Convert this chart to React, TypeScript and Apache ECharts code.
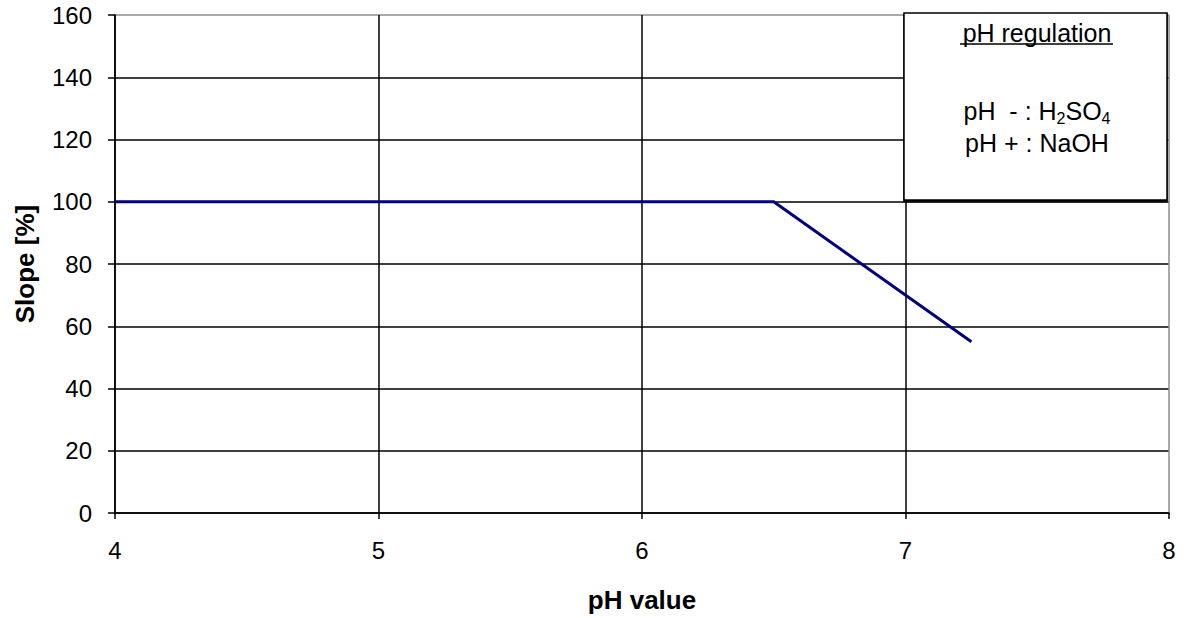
import React, { useEffect, useRef } from "react";
import * as echarts from "echarts";

const phValues = [4, 6.5, 7.25];
const slopeValues = [100, 100, 55];
const xTicks = [4, 5, 6, 7, 8];
const yTicks = [0, 20, 40, 60, 80, 100, 120, 140, 160];
const legendTitle = "pH regulation";
const xName = "pH value";
const yName = "Slope [%]";

export default function App() {
  const ref = useRef<HTMLDivElement>(null);
  useEffect(() => {
    if (!ref.current) return;
    const chart = echarts.init(ref.current, undefined, { renderer: "svg" });
    const font = "Arial";
    const ySplitColors = yTicks.map((_, i) => (i === yTicks.length - 1 ? "#8c8c8c" : "#000"));
    const xSplitColors = xTicks.map((_, i) => (i === xTicks.length - 1 ? "#8c8c8c" : "#000"));
    chart.setOption({
      animation: false,
      backgroundColor: "#fff",
      grid: { left: 115, right: 19, top: 15, bottom: 102 },
      xAxis: {
        type: "value",
        min: xTicks[0],
        max: xTicks[xTicks.length - 1],
        interval: 1,
        name: xName,
        nameLocation: "middle",
        nameGap: 74,
        nameTextStyle: { fontFamily: font, fontSize: 26, fontWeight: "bold", color: "#000" },
        axisLine: { show: true, lineStyle: { color: "#000", width: 1.5 } },
        axisTick: { show: true, length: 6, lineStyle: { color: "#000", width: 1.5 } },
        axisLabel: { margin: 25, fontFamily: font, fontSize: 24, color: "#000" },
        splitLine: { show: true, lineStyle: { color: xSplitColors, width: 1.5 } },
      },
      yAxis: {
        type: "value",
        min: yTicks[0],
        max: yTicks[yTicks.length - 1],
        interval: 20,
        name: yName,
        nameLocation: "middle",
        nameGap: 77,
        nameTextStyle: { fontFamily: font, fontSize: 26, fontWeight: "bold", color: "#000" },
        axisLine: { show: true, lineStyle: { color: "#000", width: 1.5 } },
        axisTick: { show: true, length: 7, lineStyle: { color: "#000", width: 1.5 } },
        axisLabel: { margin: 23, fontFamily: font, fontSize: 24, color: "#000" },
        splitLine: { show: true, lineStyle: { color: ySplitColors, width: 1.5 } },
      },
      series: [
        {
          type: "line",
          data: phValues.map((x, i) => [x, slopeValues[i]]),
          symbol: "none",
          lineStyle: { color: "#000080", width: 3 },
          z: 3,
        },
      ],
      graphic: [
        {
          type: "rect",
          z: 10,
          shape: { x: 904, y: 13, width: 263, height: 187 },
          style: { fill: "#fff", stroke: "#000", lineWidth: 1.5, shadowColor: "#000", shadowOffsetX: 0, shadowOffsetY: 1.5, shadowBlur: 0 },
        },
        {
          type: "text",
          z: 11,
          x: 1037,
          y: 33,
          style: { text: legendTitle, fontFamily: font, fontSize: 25, fill: "#000", align: "center", verticalAlign: "middle" },
        },
        {
          type: "line",
          z: 11,
          shape: { x1: 960, y1: 44, x2: 1113, y2: 44 },
          style: { stroke: "#000", lineWidth: 1.5 },
        },
        {
          type: "text",
          z: 11,
          x: 1037,
          y: 111,
          style: {
            text: "{n|pH  - : H}{s|2}{n|SO}{s|4}",
            align: "center",
            verticalAlign: "middle",
            rich: {
              n: { fontFamily: font, fontSize: 25, fill: "#000", lineHeight: 30, verticalAlign: "middle" },
              s: { fontFamily: font, fontSize: 16, fill: "#000", lineHeight: 30, verticalAlign: "bottom", padding: [10, 0, 0, 0] },
            },
          },
        },
        {
          type: "text",
          z: 11,
          x: 1037,
          y: 143,
          style: { text: "pH + : NaOH", fontFamily: font, fontSize: 25, fill: "#000", align: "center", verticalAlign: "middle" },
        },
      ],
    });
    return () => chart.dispose();
  }, []);
  return <div ref={ref} style={{ position: "fixed", left: 0, top: 0, width: 1188, height: 618 }} />;
}
